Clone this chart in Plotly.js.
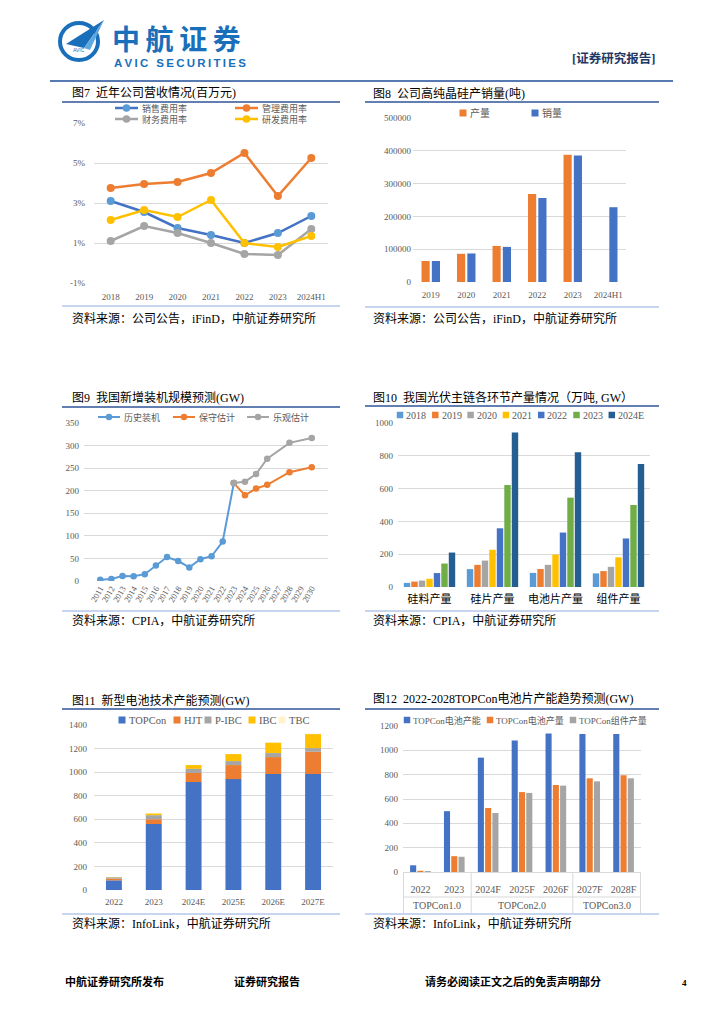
<!DOCTYPE html>
<html><head><meta charset="utf-8">
<script src="https://cdn.plot.ly/plotly-3.0.1.min.js"></script>
<style>html,body{margin:0;padding:0;background:#fff}#c{width:724px;height:1024px}</style>
</head><body><div id="c"></div>
<script>
// ---------- DATA ----------
// Fig 7
const years7 = ['2018','2019','2020','2021','2022','2023','2024H1'];
const names7 = ['销售费用率','管理费用率','财务费用率','研发费用率'];
const sales7 = [3.1, 2.55, 1.75, 1.4, 1.0, 1.5, 2.35];
const mgmt7  = [3.75, 3.95, 4.05, 4.5, 5.5, 3.35, 5.25];
const fin7   = [1.1, 1.85, 1.5, 1.0, 0.45, 0.4, 1.7];
const rd7    = [2.15, 2.65, 2.3, 3.15, 1.0, 0.8, 1.35];
const ticks7 = [-1, 1, 3, 5, 7];
const tickText7 = ['-1%', '1%', '3%', '5%', '7%'];
// Fig 8
const years8 = ['2019','2020','2021','2022','2023','2024H1'];
const names8 = ['产量','销量'];
const prod8  = [64000, 86000, 110000, 268000, 388000, null];
const sold8  = [64000, 87000, 107000, 256000, 386000, 228000];
// Fig 9
const years9 = ['2011','2012','2013','2014','2015','2016','2017','2018','2019','2020',
                '2021','2022','2023','2024','2025','2026','2027','2028','2029','2030'];
const names9 = ['历史装机','保守估计','乐观估计'];
const hist9 = [2.7, 4.5, 10.95, 10.6, 15.13, 34.54, 53.06, 44.26, 30.11, 48.2, 54.88, 87.41, 216.88,
               null, null, null, null, null, null, null];
const cons9 = [null, null, null, null, null, null, null, null, null, null, null, null, 216.88,
               190, 205, 213, null, 241, null, 252];
const opt9  = [null, null, null, null, null, null, null, null, null, null, null, null, 216.88,
               220, 237, 271, null, 306, null, 317];
// Fig 10
const cats10 = ['硅料产量','硅片产量','电池片产量','组件产量'];
const names10 = ['2018','2019','2020','2021','2022','2023','2024E'];
const v2018 = [25, 109, 86, 83];
const v2019 = [33, 135, 110, 97];
const v2020 = [39, 161, 135, 123];
const v2021 = [50, 227, 198, 181];
const v2022 = [85, 358, 332, 296];
const v2023 = [143, 622, 545, 500];
const v2024 = [210, 942, 822, 750];
// Fig 11
const years11 = ['2022','2023','2024E','2025E','2026E','2027E'];
const names11 = ['TOPCon','HJT','P-IBC','IBC','TBC'];
const topcon11 = [82, 560, 916, 941, 984, 984];
const hjt11    = [14, 40, 77, 119, 144, 189];
const pibc11   = [12, 35, 35, 34, 34, 31];
const ibc11    = [2, 14, 32, 59, 88, 119];
const tbc11    = [0, 0, 0, 0, 0, 4];
// Fig 12
const groups12 = ['TOPCon1.0','TOPCon1.0','TOPCon2.0','TOPCon2.0','TOPCon2.0','TOPCon3.0','TOPCon3.0'];
const years12  = ['2022','2023','2024F','2025F','2026F','2027F','2028F'];
const names12 = ['TOPCon电池产能','TOPCon电池产量','TOPCon组件产量'];
const cap12 = [55, 500, 940, 1080, 1138, 1135, 1135];
const out12 = [10, 130, 526, 657, 715, 770, 795];
const mod12 = [8, 125, 485, 650, 710, 745, 770];

// ---------- HELPERS ----------
const W = 724, H = 1024;
const X = p => p / W, Y = p => 1 - p / H;
const SERIF = '"Liberation Serif","Noto Sans CJK SC",serif';
const SANS = '"Noto Sans CJK SC","Liberation Sans",sans-serif';
const TICKF = {family: SERIF, size: 9, color: '#595959'};
const LEGF = {family: SERIF, size: 9, color: '#595959'};
const C = {blue:'#4472C4', lblue:'#5B9BD5', orange:'#ED7D31', gray:'#A5A5A5', yellow:'#FFC000',
           green:'#70AD47', dblue:'#255E91', cream:'#FFF2CC'};

function yAx(domain, anchor, range, extra) {
  return Object.assign({domain, anchor, range, showgrid:true, gridcolor:'#D9D9D9', gridwidth:1,
    zeroline:false, showline:false, ticks:'', tickfont:TICKF, fixedrange:true}, extra||{});
}
function xAx(domain, anchor, extra) {
  return Object.assign({domain, anchor, showgrid:false, zeroline:false, showline:false, ticks:'',
    tickfont:TICKF, fixedrange:true, type:'category', tickangle:0}, extra||{});
}
function lineTr(name, x, y, color, mcolor, ax, w, ms) {
  return {type:'scatter', mode:'lines+markers', name, x, y, connectgaps:true,
    line:{color, width:w}, marker:{color:mcolor, size:ms},
    xaxis:'x'+ax, yaxis:'y'+ax, showlegend:false, hoverinfo:'skip'};
}
function barTr(name, x, y, color, ax, width, offset, base) {
  const t = {type:'bar', name, x, y, width, offset, marker:{color, line:{width:0}},
    xaxis:'x'+ax, yaxis:'y'+ax, showlegend:false, hoverinfo:'skip', offsetgroup:name};
  if (base) t.base = base;
  return t;
}
function ann(text, xp, yp, font, extra) {
  return Object.assign({text, x:X(xp), y:Y(yp), xref:'paper', yref:'paper', xanchor:'left',
    yanchor:'middle', showarrow:false, font}, extra||{});
}
function hline(x0, x1, yp, color, width) {
  return {type:'line', xref:'paper', yref:'paper', x0:X(x0), x1:X(x1), y0:Y(yp), y1:Y(yp),
    line:{color, width}};
}
const annotations = [];
const shapes = [];
// legend key: square swatch + label (bar charts)
function swatch(xp, yp, color, label, size, fsize) {
  const s = size / 2;
  shapes.push({type:'rect', xref:'paper', yref:'paper', x0:X(xp - s), x1:X(xp + s),
    y0:Y(yp + s), y1:Y(yp - s), fillcolor:color, line:{width:0}});
  annotations.push(ann(label, xp + s + 1, yp, {family: SERIF, size: fsize, color:'#595959'}));
}
// legend key: line with marker + label (line charts)
function lineKey(x0, x1, yp, color, mcolor, label, lw, r) {
  shapes.push(hline(x0, x1, yp, color, lw));
  const cx = (x0 + x1) / 2;
  shapes.push({type:'circle', xref:'paper', yref:'paper', x0:X(cx - r), x1:X(cx + r),
    y0:Y(yp + r), y1:Y(yp - r), fillcolor:mcolor, line:{width:0}});
  annotations.push(ann(label, x1 + 2, yp, LEGF));
}

// ---------- TRACES ----------
const traces = [];
// Fig 7
const s7 = [sales7, mgmt7, fin7, rd7];
const c7 = [C.blue, C.orange, C.gray, C.yellow], m7 = [C.lblue, C.orange, C.gray, C.yellow];
const kx7 = [115, 235], ky7 = [108, 119];
s7.forEach((v, i) => {
  traces.push(lineTr(names7[i], years7, v, c7[i], m7[i], '', 2.5, 8));
  const x0 = kx7[i % 2], yk = ky7[Math.floor(i / 2)];
  lineKey(x0, x0 + 23, yk, c7[i], m7[i], names7[i], 2.5, 3.8);
});
// Fig 8
const s8 = [prod8, sold8], c8 = [C.orange, C.blue];
[-0.26, 0.03].forEach((off, i) => {
  traces.push(barTr(names8[i], years8, s8[i], c8[i], '2', 0.23, off));
  swatch(463 + i * 72, 113, c8[i], names8[i], 7, 10);
});
// Fig 9
const s9 = [hist9, cons9, opt9], c9 = [C.lblue, C.orange, C.gray];
const kx9 = [98, 173, 247];
s9.forEach((v, i) => {
  traces.push(lineTr(names9[i], years9, v, c9[i], c9[i], '3', 2, 6.5));
  lineKey(kx9[i], kx9[i] + 22, 417, c9[i], c9[i], names9[i], 2, 3.2);
});
// Fig 10
const s10 = [v2018, v2019, v2020, v2021, v2022, v2023, v2024];
const col10 = [C.lblue, C.orange, C.gray, C.yellow, C.blue, C.green, C.dblue];
const bw10 = 0.102, st10 = 0.119;
s10.forEach((v, i) => {
  traces.push(barTr(names10[i], cats10, v, col10[i], '4', bw10, -(6*st10+bw10)/2 + i*st10));
  swatch(400 + i * 35.3, 415, col10[i], names10[i], 6.5, 10);
});
// Fig 11 (stacked via base)
const s11 = [topcon11, hjt11, pibc11, ibc11, tbc11];
const c11 = [C.blue, C.orange, C.gray, C.yellow, C.cream];
const lx11 = [122, 177, 208, 252, 282];
let cum = years11.map(() => 0);
s11.forEach((v, i) => {
  const base = cum.slice();
  traces.push(barTr(names11[i], years11, v, c11[i], '5', 0.4, -0.2, base));
  cum = cum.map((c, k) => c + v[k]);
  swatch(lx11[i], 720, c11[i], names11[i], 7, 10.5);
});
// Fig 12
const bw12 = 0.18, st12 = 0.215;
const s12 = [cap12, out12, mod12], c12 = [C.blue, C.orange, C.gray];
s12.forEach((v, i) => {
  traces.push(barTr(names12[i], years12, v, c12[i], '6', bw12, -(2*st12+bw12)/2 + i*st12));
  swatch(407 + i * 83, 720, c12[i], names12[i], 6.5, 9);
});
// Fig 12 group row (second level of the category axis): labels + dividers in axis units
const GRID = '#D9D9D9';
const bounds12 = [];
groups12.forEach((g, i) => { if (i === 0 || g !== groups12[i - 1]) bounds12.push(i - 0.5); });
bounds12.push(groups12.length - 0.5);
bounds12.forEach(b => shapes.push({type:'line', xref:'x6', yref:'paper', x0:b, x1:b,
  y0:Y(872), y1:Y(913), line:{color:GRID, width:1}}));
for (let k = 0; k < bounds12.length - 1; k++) {
  const gi = Math.round(bounds12[k] + 0.5);
  annotations.push({text: groups12[gi], xref:'x6', yref:'paper', x:(bounds12[k] + bounds12[k + 1]) / 2,
    y:Y(905), xanchor:'center', yanchor:'middle', showarrow:false,
    font:{family: SERIF, size: 10, color:'#595959'}});
}

// ---------- LAYOUT ----------
const TF = {family: SERIF, size: 12, color: '#000'};
const SF = {family: SERIF, size: 12, color: '#000'};
const titleLine = '#2F5597', srcLine = '#8FAADC';

annotations.push(
  // header
  ann('<b>中\u2009航\u2009证\u2009券</b>', 110, 38, {family: SANS, size: 28, color: '#1A6FBA'}),
  ann('<b>A\u2009V\u2009I\u2009C\u2009 \u2009S\u2009E\u2009C\u2009U\u2009R\u2009I\u2009T\u2009I\u2009E\u2009S</b>', 112, 63,
      {family: '"Liberation Sans",Arial,sans-serif', size: 11.5, color: '#1A6FBA'}),
  ann('AVIC', 79, 50, {family: '"Liberation Sans",sans-serif', size: 5, color: '#1A6FBA'}, {xanchor:'center'}),
  ann('<b>[证券研究报告]</b>', 657, 58, {family: SERIF, size: 12.5, color: '#1F3864'}, {xanchor:'right'}),
  // titles
  ann('图7  近年公司营收情况(百万元)', 70, 93, TF),
  ann('图8  公司高纯晶硅产销量(吨)', 371, 93, TF),
  ann('图9  我国新增装机规模预测(GW)', 70, 397, TF),
  ann('图10  我国光伏主链各环节产量情况（万吨, GW）', 371, 397, TF),
  ann('图11  新型电池技术产能预测(GW)', 70, 700, TF),
  ann('图12  2022-2028TOPCon电池片产能趋势预测(GW)', 371, 699, TF),
  // sources
  ann('资料来源：公司公告，iFinD，中航证券研究所', 70, 318, SF),
  ann('资料来源：公司公告，iFinD，中航证券研究所', 371, 318, SF),
  ann('资料来源：CPIA，中航证券研究所', 70, 620, SF),
  ann('资料来源：CPIA，中航证券研究所', 371, 620, SF),
  ann('资料来源：InfoLink，中航证券研究所', 70, 923, SF),
  ann('资料来源：InfoLink，中航证券研究所', 371, 923, SF),
  // footer
  ann('<b>中航证券研究所发布</b>', 63, 981, {family: SERIF, size: 11, color: '#000'}),
  ann('<b>证券研究报告</b>', 232, 981, {family: SERIF, size: 11, color: '#000'}),
  ann('<b>请务必阅读正文之后的免责声明部分</b>', 423, 981, {family: SERIF, size: 11, color: '#000'}),
  ann('<b>4</b>', 684, 983, {family: SERIF, size: 9, color: '#000'}, {xanchor:'center'})
);

shapes.push(
  hline(50, 673, 81, '#1F4E99', 1.5),
  hline(62, 340, 102, titleLine, 1.3), hline(365, 659, 102, titleLine, 1.3),
  hline(62, 340, 306, srcLine, 1), hline(365, 659, 307, srcLine, 1),
  hline(62, 340, 407, titleLine, 1.3), hline(365, 659, 406, titleLine, 1.3),
  hline(62, 340, 611, srcLine, 1), hline(365, 659, 611, srcLine, 1),
  hline(62, 340, 709, titleLine, 1.3), hline(365, 659, 709, titleLine, 1.3),
  hline(62, 340, 914, srcLine, 1), hline(365, 659, 914, srcLine, 1),
  hline(403, 641, 897, GRID, 1),
  // logo ring + plane
  {type:'circle', xref:'paper', yref:'paper', x0:X(60), x1:X(98), y0:Y(60), y1:Y(23),
   line:{color:'#1A6FBA', width:4}},
  {type:'path', xref:'paper', yref:'paper', fillcolor:'#1A6FBA', line:{width:0},
   path:`M ${X(66)} ${Y(44)} L ${X(104)} ${Y(20)} L ${X(84)} ${Y(48)} Z`},
  {type:'path', xref:'paper', yref:'paper', fillcolor:'#5FA8E0', line:{width:0},
   path:`M ${X(84)} ${Y(48)} L ${X(104)} ${Y(20)} L ${X(90)} ${Y(50)} Z`}
);

const layout = {
  width: W, height: H, margin:{l:0, r:0, t:0, b:0, autoexpand:false},
  paper_bgcolor:'#fff', plot_bgcolor:'#fff',
  barmode:'group', showlegend:false, hovermode:false, font:{family: SERIF},
  // Fig 7
  xaxis: xAx([X(94), X(328)], 'y', {ticklabelstandoff: 7}),
  yaxis: yAx([Y(283), Y(123)], 'x', [-1, 7], {tickmode:'array', tickvals: ticks7, ticktext: tickText7, ticklabelstandoff: 8}),
  // Fig 8
  xaxis2: xAx([X(413), X(626)], 'y2', {ticklabelstandoff: 6}),
  yaxis2: yAx([Y(282), Y(118)], 'x2', [0, 500000], {dtick:100000, tickformat:'d', ticklabelstandoff: 1}),
  // Fig 9
  xaxis3: xAx([X(84), X(328)], 'y3', {tickangle:-60, tickmode:'array', tickvals: years9, tickfont:{family: SERIF, size: 8.5, color:'#595959'}}),
  yaxis3: yAx([Y(581), Y(423)], 'x3', [0, 350], {dtick:50, ticklabelstandoff: 4}),
  // Fig 10
  xaxis4: xAx([X(398), X(650)], 'y4', {ticklabelstandoff: 4, tickfont:{family: SERIF, size: 11, color:'#000'}}),
  yaxis4: yAx([Y(587), Y(423)], 'x4', [0, 1000], {dtick:200, ticklabelstandoff: 4}),
  // Fig 11
  xaxis5: xAx([X(94), X(333)], 'y5', {ticklabelstandoff: 5}),
  yaxis5: yAx([Y(890), Y(725)], 'x5', [0, 1400], {dtick:200, ticklabelstandoff: 6}),
  // Fig 12
  xaxis6: xAx([X(403), X(641)], 'y6', {showline:true, linecolor:GRID, ticklabelstandoff: 8,
    tickfont:{family: SERIF, size: 10, color:'#595959'}}),
  yaxis6: yAx([Y(872), Y(726)], 'x6', [0, 1200], {dtick:200, ticklabelstandoff: 4}),
  annotations, shapes
};

Plotly.newPlot('c', traces, layout, {staticPlot:true, displayModeBar:false});
</script>
</body></html>
